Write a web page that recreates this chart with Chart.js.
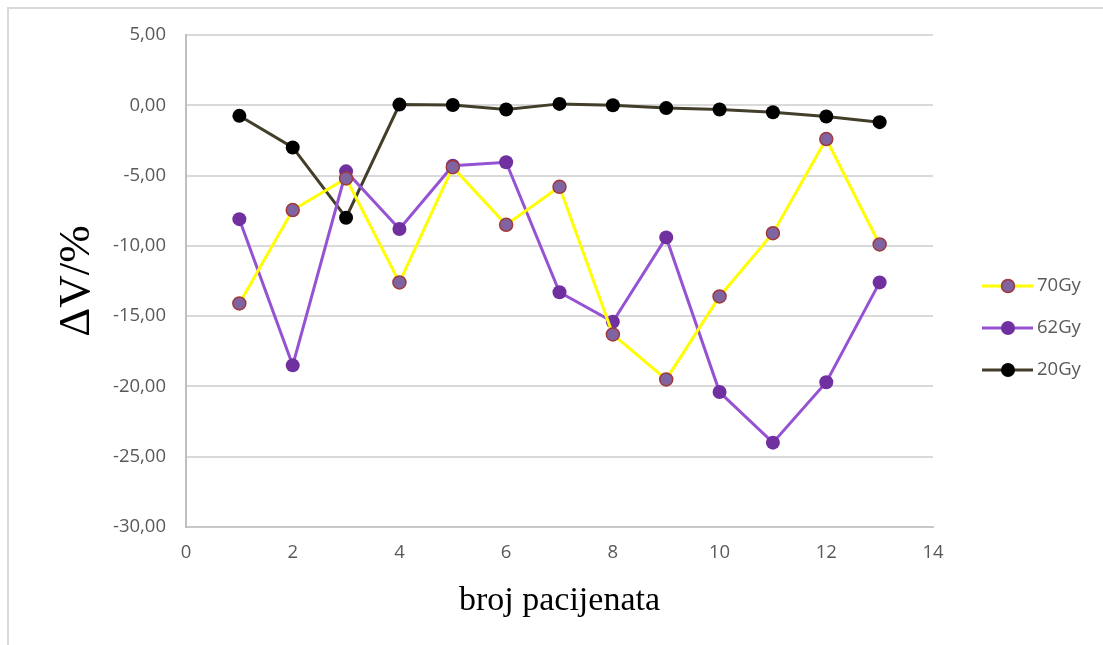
<!DOCTYPE html>
<html>
<head>
<meta charset="utf-8">
<script src="https://cdn.jsdelivr.net/npm/chart.js@4.4.1/dist/chart.umd.min.js"></script>
<style>
  body { margin: 0; background: #fff; }
  #wrap { position: relative; width: 1103px; height: 645px; }
  #frame { position: absolute; left: 7px; top: 7px; right: 0; bottom: 0; border-left: 2px solid #d9d9d9; border-top: 2px solid #d9d9d9; }
  canvas { position: absolute; left: 0; top: 0; }
</style>
</head>
<body>
<div id="wrap">
  <div id="frame"></div>
  <canvas id="myChart" width="1103" height="645"></canvas>
</div>
<script>
// patient numbers on the x axis
var patients = [1, 2, 3, 4, 5, 6, 7, 8, 9, 10, 11, 12, 13];

// dose change per patient
var gy70 = [-14.1, -7.45, -5.2, -12.6, -4.4, -8.5, -5.8, -16.3, -19.5, -13.6, -9.1, -2.4, -9.9];
var gy62 = [-8.1, -18.5, -4.7, -8.8, -4.3, -4.05, -13.3, -15.4, -9.4, -20.4, -24.0, -19.7, -12.6];
var gy20 = [-0.75, -3.0, -8.0, 0.05, 0.02, -0.3, 0.1, 0.0, -0.2, -0.3, -0.5, -0.8, -1.2];

var seriesNames = ["70Gy", "62Gy", "20Gy"];

// axis settings
var xMin = 0, xMax = 14, xStep = 2;
var yMin = -30, yMax = 5, yStep = 5;

// turns the arrays into {x, y} points
function toPoints(values) {
    return values.map((v, i) => ({ x: patients[i], y: v }));
}

var tickFont = { family: "'Open Sans', sans-serif", size: 18.5 };

// draws the legend to the right of the plot like the spreadsheet does
const sideLegend = {
    id: "sideLegend",
    afterDraw(chart) {
        const ctx = chart.ctx;
        const area = chart.chartArea;
        chart.data.datasets.forEach((ds, i) => {
            const y = area.top + 251 + i * 42;
            const x0 = area.right + 49;
            ctx.save();
            ctx.strokeStyle = ds.borderColor;
            ctx.lineWidth = 3;
            ctx.beginPath();
            ctx.moveTo(x0, y);
            ctx.lineTo(x0 + 51, y);
            ctx.stroke();
            ctx.beginPath();
            ctx.arc(x0 + 26, y, ds.pointRadius, 0, Math.PI * 2);
            ctx.fillStyle = ds.pointBackgroundColor;
            ctx.fill();
            if (ds.pointBorderWidth > 0) {
                ctx.lineWidth = ds.pointBorderWidth;
                ctx.strokeStyle = ds.pointBorderColor;
                ctx.stroke();
            }
            ctx.fillStyle = "#595959";
            ctx.font = "18.5px 'Open Sans', sans-serif";
            ctx.textBaseline = "middle";
            ctx.fillText(ds.label, x0 + 55, y);
            ctx.restore();
        });
    }
};

new Chart("myChart", {
    type: "line",
    data: {
        datasets: [{
            label: seriesNames[0],
            data: toPoints(gy70),
            borderColor: "#ffff00",
            borderWidth: 3,
            pointRadius: 6.5,
            pointBackgroundColor: "#8064a2",
            pointBorderColor: "#a0393a",
            pointBorderWidth: 1.5
        }, {
            label: seriesNames[1],
            data: toPoints(gy62),
            borderColor: "#9552d2",
            borderWidth: 3,
            pointRadius: 7,
            pointBackgroundColor: "#7030a0",
            pointBorderColor: "#7030a0",
            pointBorderWidth: 0
        }, {
            label: seriesNames[2],
            data: toPoints(gy20),
            borderColor: "#433e2a",
            borderWidth: 3,
            pointRadius: 7,
            pointBackgroundColor: "#000000",
            pointBorderColor: "#000000",
            pointBorderWidth: 0
        }]
    },
    options: {
        responsive: false,
        animation: false,
        layout: { padding: { left: 50, right: 170, top: 35, bottom: 24 } },
        plugins: { legend: { display: false }, tooltip: { enabled: false } },
        scales: {
            x: {
                type: "linear",
                min: xMin, max: xMax,
                afterFit: s => { s.height = 94; },
                ticks: { stepSize: xStep, color: "#595959", font: tickFont, padding: 15 },
                grid: { display: false, drawTicks: false },
                border: { display: true, color: "#c8c8c8", width: 2 },
                title: {
                    display: true, text: "broj pacijenata", color: "#000",
                    font: { family: "'Liberation Serif', 'Times New Roman', serif", size: 34 },
                    padding: { top: 0, bottom: 0 }
                }
            },
            y: {
                min: yMin, max: yMax,
                afterFit: s => { s.width = 136; },
                ticks: {
                    stepSize: yStep, color: "#595959", font: tickFont, padding: 20,
                    callback: v => v.toFixed(2).replace(".", ",")
                },
                grid: { color: "#d9d9d9", lineWidth: 2, drawTicks: false },
                border: { display: true, color: "#bfbfbf", width: 2 },
                title: {
                    display: true, text: "ΔV/%", color: "#000",
                    font: { family: "'Liberation Serif', 'Times New Roman', serif", size: 45 },
                    padding: { top: 0, bottom: 0 }
                }
            }
        }
    },
    plugins: [sideLegend]
});
</script>
</body>
</html>
